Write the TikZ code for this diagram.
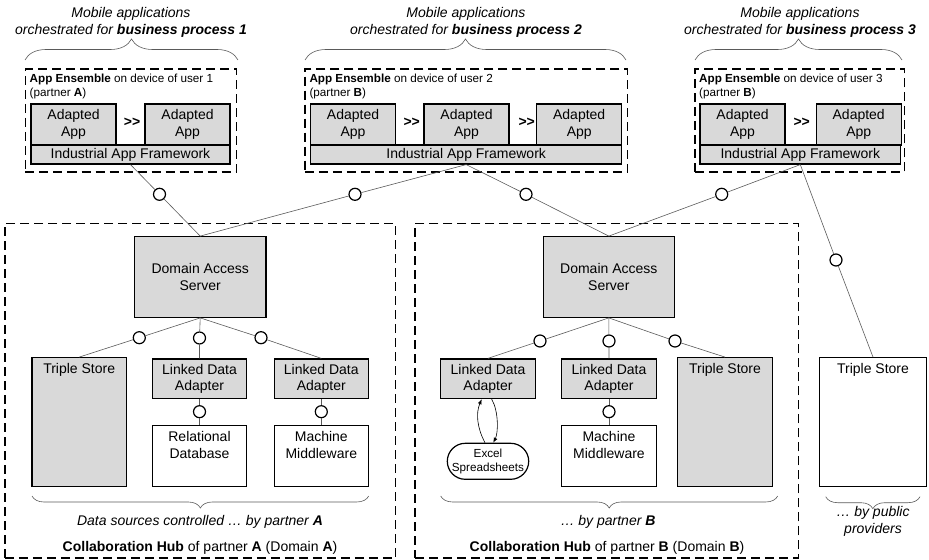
\documentclass[tikz,border=0pt]{standalone}
\usepackage{fontspec}
\setmainfont{Liberation Sans}
\usepackage{tikz}
\usetikzlibrary{positioning, arrows.meta, decorations.pathreplacing}
\definecolor{HubGray}{RGB}{217,217,217}
\definecolor{LinkGray}{RGB}{90,90,90}
\newcommand{\boxfont}{\fontsize{14bp}{16.8bp}\selectfont}
\newcommand{\notefont}{\fontsize{11.7bp}{13.6bp}\selectfont}

\begin{document}
\begin{tikzpicture}[x=1bp, y=-1bp,
          comp/.style={rectangle, draw, line width=1.2bp, fill=HubGray, inner sep=0pt,
                       align=center, font=\boxfont},
          appbox/.style={comp, minimum width=85bp, minimum height=41bp},
          fwbox/.style={comp, minimum height=19bp},
          ldabox/.style={comp, minimum width=94.4bp, minimum height=39.7bp},
          srcbox/.style={comp, fill=white, minimum width=94.4bp, minimum height=61.4bp},
          storebox/.style={comp, minimum height=129bp},
          boxtext/.style={inner sep=0pt, align=center, font=\boxfont},
          ensemble/.style={rectangle, draw, line width=1.5bp, dash pattern=on 9bp off 5bp,
                           minimum height=103bp},
          hub/.style={rectangle, draw, line width=1.5bp, dash pattern=on 9bp off 5bp,
                      minimum height=334.7bp},
          ball/.style={circle, draw, line width=1.2bp, fill=white, minimum size=12bp, inner sep=0pt},
          link/.style={draw=LinkGray, line width=0.6bp},
          curly/.style={draw=LinkGray, line width=0.6bp, decorate,
                        decoration={brace, amplitude=#1}},
          note/.style={align=center, font=\boxfont\itshape},
          ensnote/.style={anchor=north west, inner sep=0pt, align=left, font=\notefont},
          seq/.style={inner sep=0pt, font=\boxfont\bfseries}
        ]
        \useasboundingbox (0,0) rectangle (929,560);

        % Business processes
        \node[note] (head1) at (131,22.5) {Mobile applications\\orchestrated for \textbf{business process 1}};
        \node[note] (head2) at (466,22.5) {Mobile applications\\orchestrated for \textbf{business process 2}};
        \node[note] (head3) at (800,22.5) {Mobile applications\\orchestrated for \textbf{business process 3}};
        \draw[curly=21bp] (25,60) -- (238,60);
        \draw[curly=21bp] (305,60) -- (626,60);
        \draw[curly=21bp] (695,60) -- (902,60);

        % App ensemble of user 1
        \node[ensemble, minimum width=211bp] (ens1) at (131,120.5) {};
        \node[ensnote] (ens1note) at (29.5,74.3) {\textbf{App Ensemble} on device of user 1\\(partner \textbf{A})};
        \node[appbox] (app11) at (73.5,124.5) {Adapted\\App};
        \node[appbox] (app12) at (187.5,124.5) {Adapted\\App};
        \node[fwbox, minimum width=199bp] (fw1) at (130.5,154.5) {Industrial App Framework};
        \node[seq] (seq11) at (132,122) {>{}>};

        % App ensemble of user 2
        \node[ensemble, minimum width=322.7bp] (ens2) at (466.3,120.5) {};
        \node[ensnote] (ens2note) at (309.3,74.3) {\textbf{App Ensemble} on device of user 2\\(partner \textbf{B})};
        \node[appbox] (app21) at (353,124.5) {Adapted\\App};
        \node[appbox] (app22) at (466.5,124.5) {Adapted\\App};
        \node[appbox] (app23) at (579.2,124.5) {Adapted\\App};
        \node[fwbox, minimum width=311bp] (fw2) at (466.2,154.5) {Industrial App Framework};
        \node[seq] (seq21) at (411.7,122) {>{}>};
        \node[seq] (seq22) at (526.7,122) {>{}>};

        % App ensemble of user 3
        \node[ensemble, minimum width=209.3bp] (ens3) at (799.7,120.5) {};
        \node[ensnote] (ens3note) at (699,74.3) {\textbf{App Ensemble} on device of user 3\\(partner \textbf{B})};
        \node[appbox] (app31) at (742.5,124.5) {Adapted\\App};
        \node[appbox] (app32) at (858.7,124.5) {Adapted\\App};
        \node[fwbox, minimum width=200.7bp] (fw3) at (800.3,154.5) {Industrial App Framework};
        \node[seq] (seq31) at (801.7,122) {>{}>};

        % Collaboration hub of partner A
        \node[hub, minimum width=390.7bp] (hubA) at (200.3,390.7) {};
        \node[comp, minimum width=131.7bp, minimum height=80.6bp] (dasA) at (200.2,277) {Domain Access\\Server};
        \node[storebox, minimum width=94.3bp] (tsA) at (79.2,422.2) {};
        \node[boxtext, below=6.5bp of tsA.north] (tsAtext) {Triple Store};
        \node[ldabox] (ldaA1) at (199.5,378.8) {Linked Data\\Adapter};
        \node[srcbox] (relDB) at (199.5,456) {};
        \node[boxtext, below=6.5bp of relDB.north] (relDBtext) {Relational\\Database};
        \node[ldabox] (ldaA2) at (321.3,378.8) {Linked Data\\Adapter};
        \node[srcbox] (mwA) at (321.3,456) {};
        \node[boxtext, below=6.5bp of mwA.north] (mwAtext) {Machine\\Middleware};
        \draw[curly=12bp] (368.7,496) -- (32,496);
        \node[note] (srcA) at (200,522.3) {Data sources controlled … by partner \textbf{A}};
        \node[font=\boxfont] (hubAtitle) at (200,547.7) {\textbf{Collaboration Hub} of partner \textbf{A} (Domain \textbf{A})};

        % Collaboration hub of partner B
        \node[hub, minimum width=383.3bp] (hubB) at (606.7,390.7) {};
        \node[comp, minimum width=131bp, minimum height=80.6bp] (dasB) at (608.8,277) {Domain Access\\Server};
        \node[ldabox] (ldaB1) at (488,378.8) {Linked Data\\Adapter};
        \node[comp, fill=white, rounded corners=18bp, minimum width=81.4bp, minimum height=36bp,
              font=\notefont] (xls) at (488,461.3) {Excel\\Spreadsheets};
        \node[ldabox] (ldaB2) at (609,378.8) {Linked Data\\Adapter};
        \node[srcbox] (mwB) at (609,456) {};
        \node[boxtext, below=6.5bp of mwB.north] (mwBtext) {Machine\\Middleware};
        \node[storebox, minimum width=94.6bp] (tsB) at (725,422.2) {};
        \node[boxtext, below=6.5bp of tsB.north] (tsBtext) {Triple Store};
        \draw[curly=12bp] (777.7,496) -- (440.7,496);
        \node[note] (srcB) at (608,522.3) {… by partner \textbf{B}};
        \node[font=\boxfont] (hubBtitle) at (607,547.7) {\textbf{Collaboration Hub} of partner \textbf{B} (Domain \textbf{B})};

        % Public triple store
        \node[storebox, fill=white, minimum width=107.4bp] (tsP) at (873,422.2) {};
        \node[boxtext, below=6.5bp of tsP.north] (tsPtext) {Triple Store};
        \draw[curly=12bp] (920,496.7) -- (825.7,496.7);
        \node[note] (srcP) at (873,521.5) {… by public\\providers};

        % Interfaces
        \foreach \n/\x/\y in {bt1/159.5/194.3, bt2/355/194.3, bt3/526/194.3, bt4/721.7/194.3,
                              bt5/836/260, bA1/139.3/337.7, bA2/199.5/338, bA3/261/337.7,
                              bA4/199.5/411.7, bA5/321.3/411.7, bB1/540/341, bB2/609/341,
                              bB3/675/341, bB4/609/411.7}{
          \node[ball] (\n) at (\x,\y) {};
        }

        % Links
        \draw[link] (fw1.south) -- (bt1) -- (dasA.north);
        \draw[link] (fw2.south) -- (bt2) -- (dasA.north);
        \draw[link] (fw2.south) -- (bt3) -- (dasB.north);
        \draw[link] (fw3.south) -- (bt4) -- (dasB.north);
        \draw[link] (fw3.south) -- (bt5) -- (tsP.north);
        \draw[link] (dasA.south) -- (bA1) -- (tsA.north);
        \draw[link] (dasA.south) -- (bA2) -- (ldaA1.north);
        \draw[link] (dasA.south) -- (bA3) -- (ldaA2.north);
        \draw[link] (ldaA1.south) -- (bA4) -- (relDB.north);
        \draw[link] (ldaA2.south) -- (bA5) -- (mwA.north);
        \draw[link] (dasB.south) -- (bB1) -- (ldaB1.north);
        \draw[link] (dasB.south) -- (bB2) -- (ldaB2.north);
        \draw[link] (dasB.south) -- (bB3) -- (tsB.north);
        \draw[link] (ldaB2.south) -- (bB4) -- (mwB.north);

        % Spreadsheet access
        \draw[link, draw=black, -{Latex[length=5bp,width=4bp]}] ([xshift=-3bp]xls.north)
              .. controls +(-8,-15) and +(-6,14) .. ([xshift=-6.3bp]ldaB1.south);
        \draw[link, draw=black, -{Latex[length=5bp,width=4bp]}] ([xshift=3.7bp]ldaB1.south)
              .. controls +(7,12) and +(5,-10) .. ([xshift=5.3bp]xls.north);
      \end{tikzpicture}
\end{document}
